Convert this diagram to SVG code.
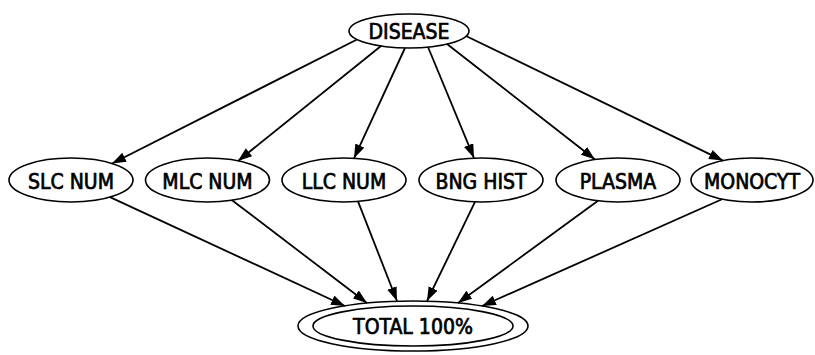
<svg xmlns="http://www.w3.org/2000/svg" width="815" height="355" viewBox="0 0 815 355">
<defs>
<style>
.n ellipse{fill:none;stroke:#000;stroke-width:1.6}
.n text{font-family:"DejaVu Sans Condensed","DejaVu Sans",sans-serif;font-stretch:condensed;font-size:21px;fill:#000;stroke:#000;stroke-width:0.7;text-anchor:middle}
.e line{stroke:#000;stroke-width:1.8;marker-end:url(#ah)}
</style>
<marker id="ah" markerUnits="userSpaceOnUse" markerWidth="15" markerHeight="11" refX="14" refY="5" orient="auto">
<path d="M0,0 L14,5 L0,10 Z" fill="#000"/>
</marker>
</defs>
<rect width="815" height="355" fill="#fff"/>
<g id="edges" class="e">
<line x1="357" y1="39.5" x2="112" y2="163.5"/>
<line x1="381" y1="46" x2="238" y2="161"/>
<line x1="405" y1="48" x2="354" y2="158.3"/>
<line x1="428" y1="47" x2="474" y2="158.1"/>
<line x1="447" y1="44" x2="595" y2="159.5"/>
<line x1="466" y1="36" x2="723" y2="160.6"/>
<line x1="110" y1="197.1" x2="345" y2="306"/>
<line x1="232" y1="200.2" x2="367" y2="303"/>
<line x1="358" y1="201.4" x2="397" y2="301"/>
<line x1="475" y1="201.9" x2="427" y2="301"/>
<line x1="598" y1="200.8" x2="458" y2="303"/>
<line x1="722" y1="199.3" x2="482" y2="306"/>
</g>
<g id="disease" class="n"><ellipse cx="409" cy="31" rx="60" ry="17"/><text x="409" y="38.5">DISEASE</text></g>
<g id="slc" class="n"><ellipse cx="71" cy="180" rx="62" ry="22"/><text x="71" y="188.5">SLC NUM</text></g>
<g id="mlc" class="n"><ellipse cx="207.5" cy="180" rx="62" ry="22"/><text x="207.5" y="188.5">MLC NUM</text></g>
<g id="llc" class="n"><ellipse cx="344" cy="180" rx="62" ry="22"/><text x="344" y="188.5">LLC NUM</text></g>
<g id="bng" class="n"><ellipse cx="481" cy="180" rx="62" ry="22"/><text x="481" y="188.5">BNG HIST</text></g>
<g id="plasma" class="n"><ellipse cx="618" cy="180" rx="62" ry="22"/><text x="618" y="188.5">PLASMA</text></g>
<g id="monocyt" class="n"><ellipse cx="752" cy="180" rx="61" ry="22"/><text x="752" y="188.5">MONOCYT</text></g>
<g id="total" class="n"><ellipse cx="413" cy="326" rx="115" ry="25"/><ellipse cx="413" cy="326" rx="100" ry="20"/><text x="413" y="333.5">TOTAL 100%</text></g>
</svg>
